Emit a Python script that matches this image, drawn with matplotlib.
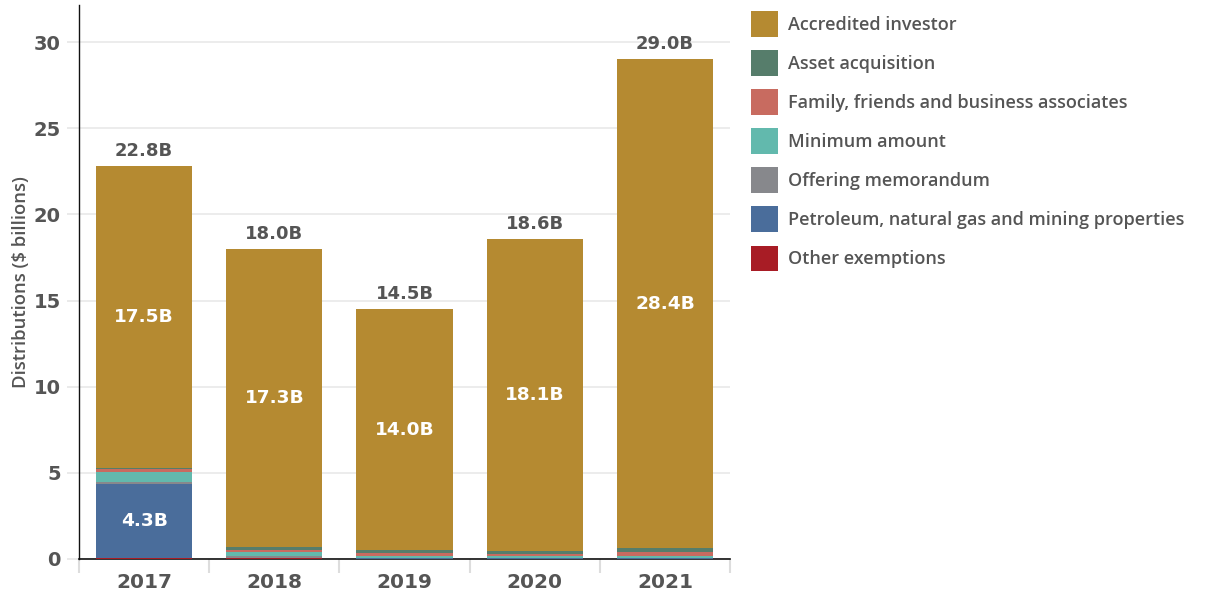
import matplotlib
matplotlib.use("Agg")
import matplotlib.pyplot as plt
from matplotlib.patches import Patch
import numpy as np

plt.rcParams['font.family'] = ['Open Sans', 'DejaVu Sans']
NUM_FONT = ['DejaVu Sans']

years = ["2017", "2018", "2019", "2020", "2021"]

# Series listed in legend order (top of legend = top of stack)
series_names = [
    "Accredited investor",
    "Asset acquisition",
    "Family, friends and business associates",
    "Minimum amount",
    "Offering memorandum",
    "Petroleum, natural gas and mining properties",
    "Other exemptions",
]
accredited = [17.5, 17.3, 14.0, 18.14, 28.4]
asset_acq = [0.08, 0.12, 0.14, 0.14, 0.22]
family = [0.15, 0.12, 0.20, 0.13, 0.22]
minimum = [0.62, 0.25, 0.10, 0.10, 0.10]
offering = [0.10, 0.12, 0.04, 0.04, 0.04]
petroleum = [4.30, 0.03, 0.01, 0.01, 0.01]
other = [0.05, 0.03, 0.02, 0.02, 0.02]

colors = {
    "Accredited investor": "#B58A31",
    "Asset acquisition": "#567D6B",
    "Family, friends and business associates": "#C86B60",
    "Minimum amount": "#62B9AD",
    "Offering memorandum": "#87888C",
    "Petroleum, natural gas and mining properties": "#4A6D9B",
    "Other exemptions": "#A81C25",
}

values = {
    "Accredited investor": accredited,
    "Asset acquisition": asset_acq,
    "Family, friends and business associates": family,
    "Minimum amount": minimum,
    "Offering memorandum": offering,
    "Petroleum, natural gas and mining properties": petroleum,
    "Other exemptions": other,
}

text_col = "#555555"

fig = plt.figure(figsize=(12.06, 5.95), dpi=100)
ax = fig.add_axes([79 / 1206, 1 - 559 / 595, (730 - 79) / 1206, (559 - 5) / 595])

x = np.arange(len(years))
width = 0.74
bottom = np.zeros(len(years))
# stack from the bottom: reverse of legend order
for name in reversed(series_names):
    v = np.array(values[name])
    ax.bar(x, v, width, bottom=bottom, color=colors[name], linewidth=0, zorder=3)
    if name == "Accredited investor":
        for xi, b, vi in zip(x, bottom, v):
            ax.text(xi, b + vi / 2, f"{vi:.1f}B", ha="center", va="center",
                    color="white", fontsize=13.3, fontweight="bold",
                    family=NUM_FONT, zorder=4)
    if name == "Petroleum, natural gas and mining properties":
        for xi, b, vi in zip(x, bottom, v):
            if vi > 2:
                ax.text(xi, b + vi / 2, f"{vi:.1f}B", ha="center", va="center",
                        color="white", fontsize=13.3, fontweight="bold",
                        family=NUM_FONT, zorder=4)
    bottom = bottom + v

for xi, tot in zip(x, bottom):
    ax.text(xi, tot + 0.35, f"{tot:.1f}B", ha="center", va="bottom",
            color=text_col, fontsize=13, fontweight="bold",
            family=NUM_FONT, zorder=4)

ax.set_xlim(-0.5, 4.5)
ax.set_ylim(0, 32.15)
ax.set_yticks([0, 5, 10, 15, 20, 25, 30])
ax.set_xticks(x)
ax.set_xticklabels(years)
ax.set_xticks(np.arange(-0.5, 5, 1), minor=True)
ax.tick_params(axis="x", which="major", length=0, pad=10, labelsize=14.5,
               labelcolor=text_col)
ax.tick_params(axis="x", which="minor", length=10, width=1.5, color="#dddddd")
ax.tick_params(axis="y", length=9, width=1.2, color="#e6e6e6", labelsize=14,
               labelcolor=text_col, pad=4)
for lab in ax.get_xticklabels() + ax.get_yticklabels():
    lab.set_fontweight("bold")
    lab.set_family(NUM_FONT)

ax.grid(axis="y", color="#e9e9e9", linewidth=1.2, zorder=0)
ax.set_axisbelow(True)
for s in ["top", "right"]:
    ax.spines[s].set_visible(False)
ax.spines["left"].set_color("#111111")
ax.spines["bottom"].set_color("#111111")
ax.spines["left"].set_linewidth(1.0)
ax.spines["bottom"].set_linewidth(1.2)

ax.set_ylabel("Distributions ($ billions)", fontsize=13.3, color=text_col,
              fontweight="semibold")
ax.yaxis.set_label_coords(-0.076, 0.5)

handles = [Patch(facecolor=colors[n], edgecolor="none") for n in series_names]
fig.legend(handles, series_names, loc="upper left",
           bbox_to_anchor=(751 / 1206, 1 - 11 / 595), frameon=False,
           handlelength=1.5, handleheight=1.8,
           handletextpad=0.55, labelspacing=0.75, borderpad=0,
           borderaxespad=0, labelcolor=text_col,
           prop={"weight": "semibold", "size": 13})

fig.savefig("out.png", dpi=100)
